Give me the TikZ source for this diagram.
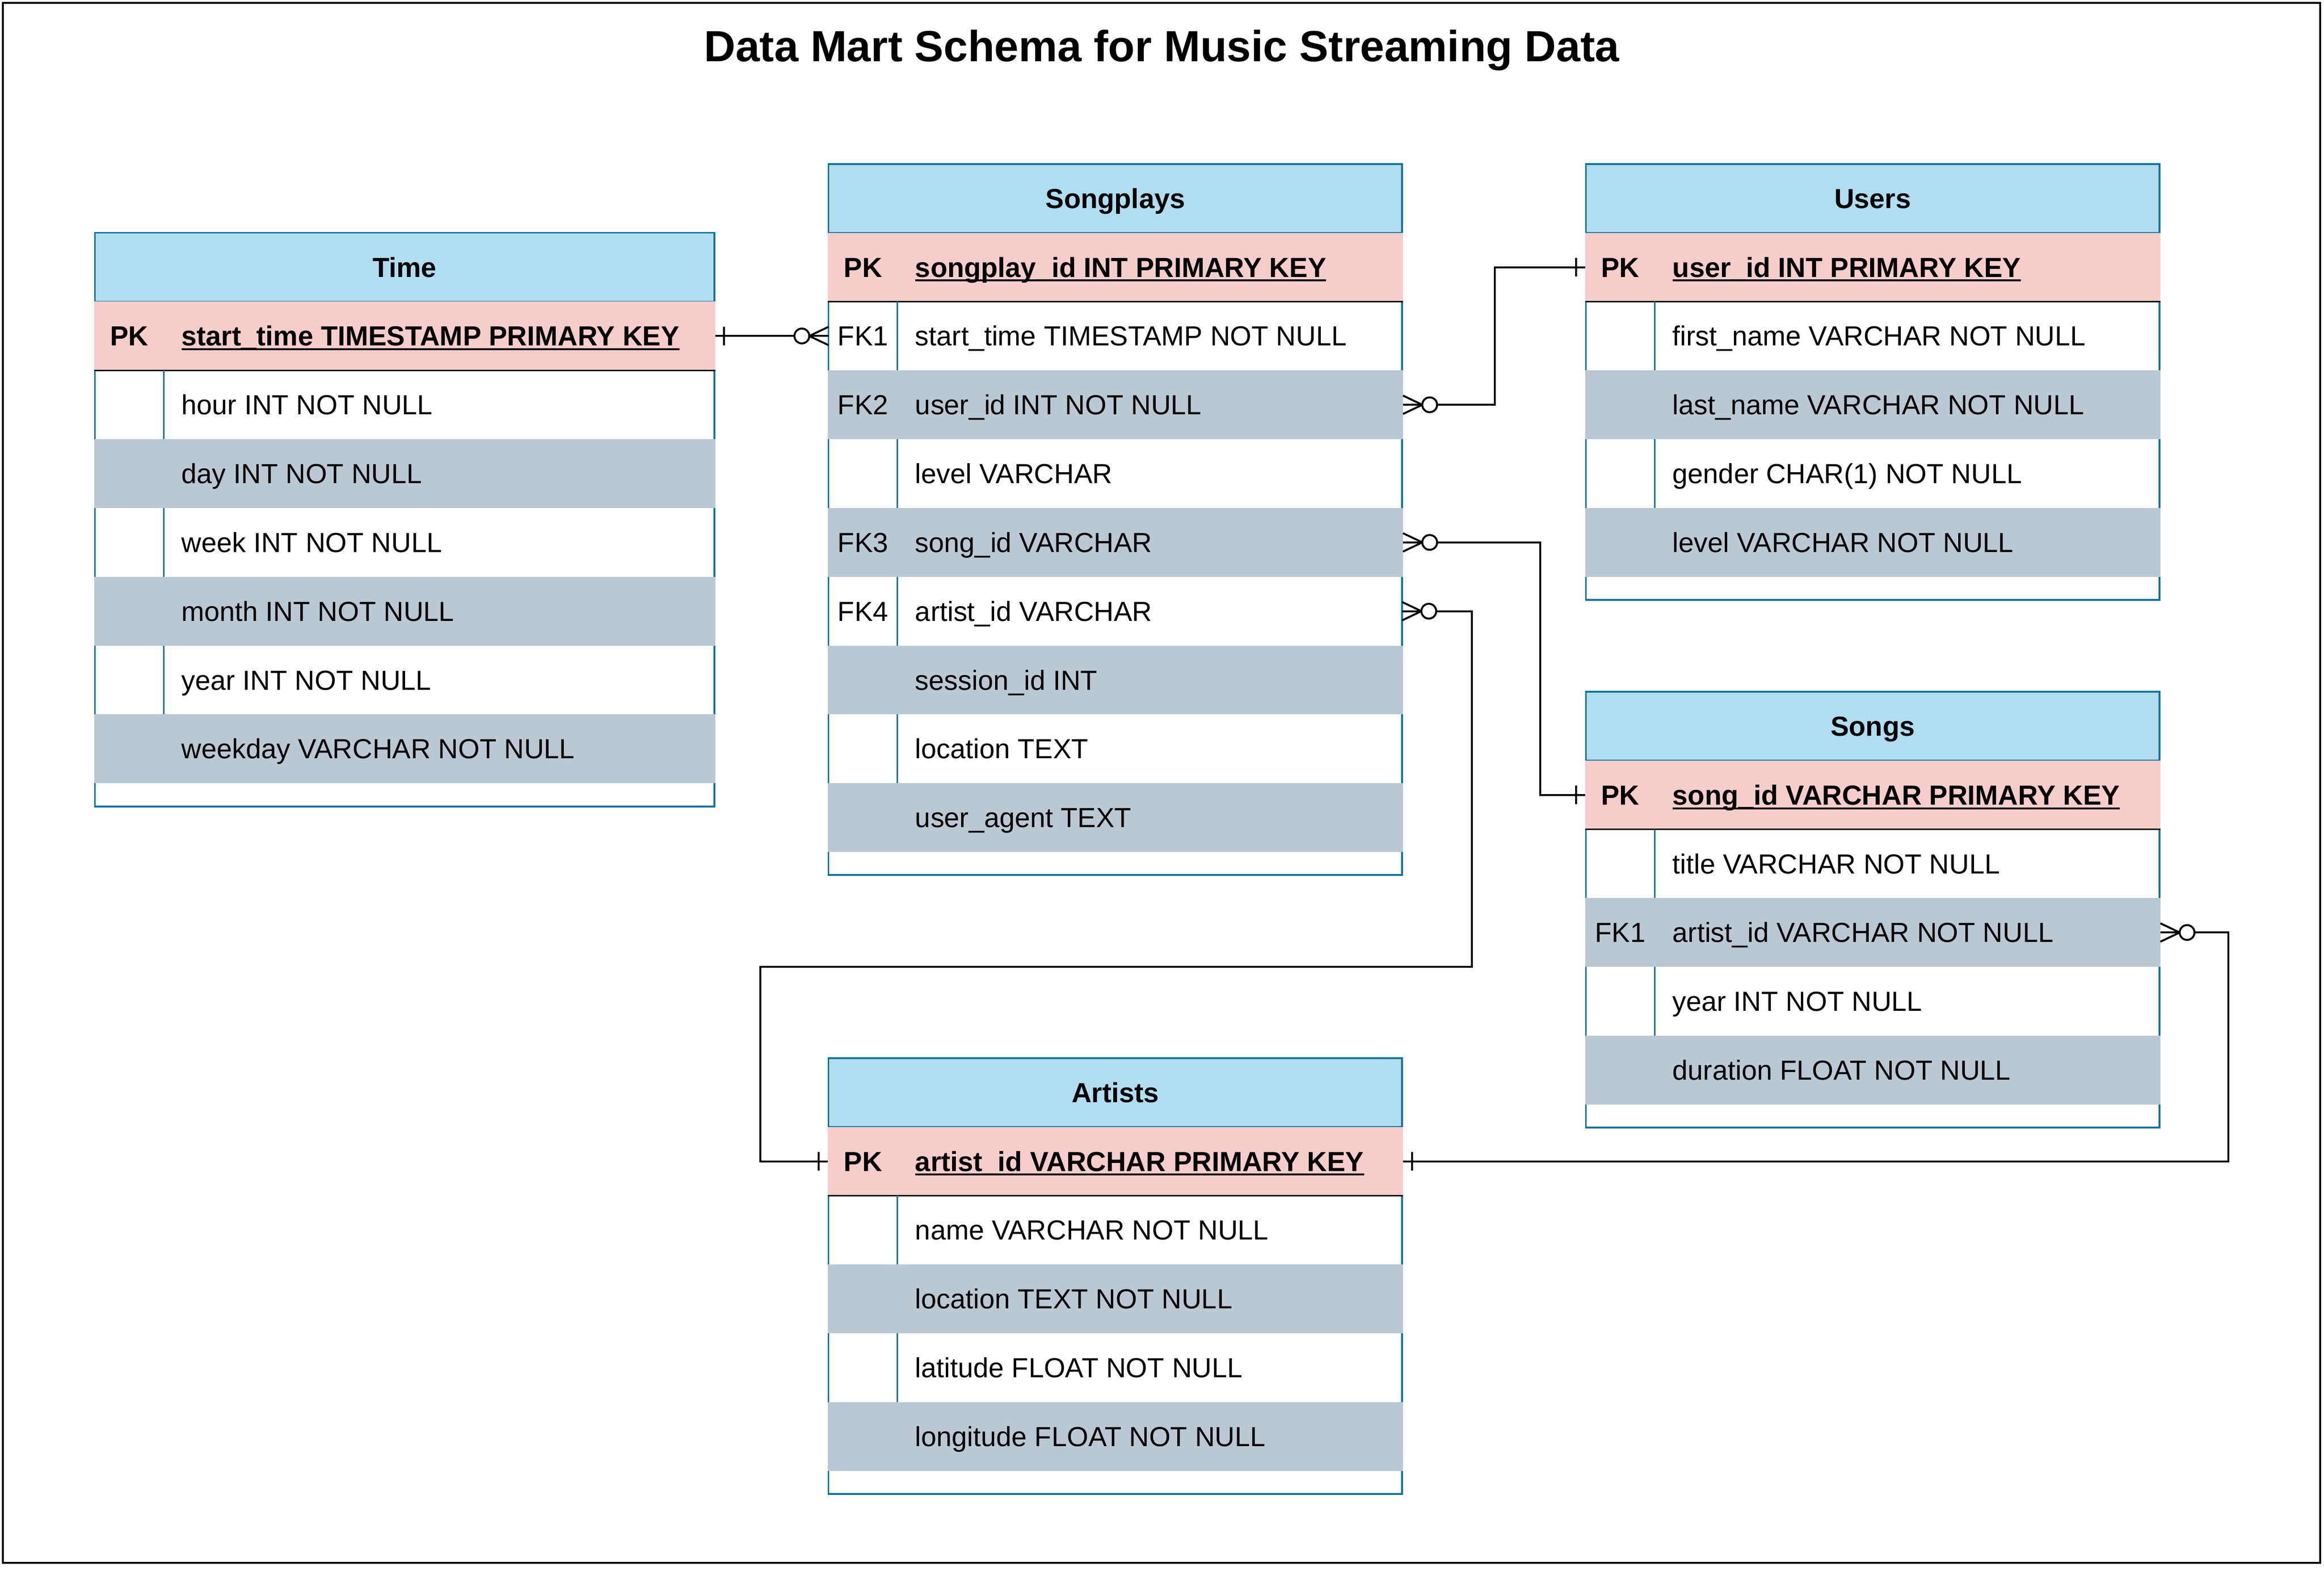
\documentclass[tikz,border=0pt]{standalone}
\usepackage{fontspec}
\setmainfont{Liberation Sans}
\usetikzlibrary{calc}
\definecolor{tblue}{HTML}{10739E}
\definecolor{hblue}{HTML}{B1DDF0}
\definecolor{pkpink}{HTML}{F6CDCB}
\definecolor{rgray}{HTML}{BAC8D3}
\newcommand\rowfont{\fontsize{18.6}{22}\selectfont}
\newcommand\titlefont{\fontsize{29.4}{35}\selectfont\bfseries}
\newsavebox\ulbox
\newcommand\ulx[1]{\sbox\ulbox{#1}\rlap{\rule[-3pt]{\wd\ulbox}{1.3pt}}\usebox\ulbox}
\tikzset{
  frame/.style={draw=tblue, line width=1.2pt, fill=white, inner sep=0, outer sep=0},
  hdrbox/.style={draw=tblue, line width=1.2pt, fill=hblue, minimum height=46.4pt, inner sep=0, outer sep=0,
                 font=\rowfont\bfseries, text height=13.3pt, text depth=0pt},
  pkbox/.style={fill=pkpink, minimum height=46.4pt, inner sep=0, outer sep=0},
  wbox/.style={minimum height=46.4pt, inner sep=0, outer sep=0},
  gbox/.style={fill=rgray, minimum height=46.4pt, inner sep=0, outer sep=0},
  sepline/.style={draw=tblue, line width=1pt},
  pkline/.style={draw=black, line width=0.9pt},
  keytxt/.style={anchor=center, inner sep=0, font=\rowfont, text height=13.3pt, text depth=0pt},
  fldtxt/.style={anchor=west, inner sep=0, font=\rowfont, text height=13.3pt, text depth=0pt},
  conn/.style={draw=black, line width=1.3pt},
  outer/.style={draw=black, line width=1.3pt}
}
% table frame: name, left, top, width, height
\newcommand\tframe[5]{\node[frame, minimum width=#4, minimum height=#5] (#1) at ({#2+#4/2},{#3+#5/2}) {};}
% header: name, left, center y, width, title
\newcommand\thead[5]{\node[hdrbox, minimum width=#4] (#1) at ({#2+#4/2},#3) {#5};}
% primary key row: name, left, center y, width, field
\newcommand\tpk[5]{%
  \node[pkbox, minimum width=#4+1.2] (#1) at ({#2+#4/2},#3) {};
  \draw[pkline] (#1.south west) -- (#1.south east);
  \node[keytxt, font=\rowfont\bfseries] at ({#2+23.25},#3) {PK};
  \node[fldtxt, font=\rowfont\bfseries] at ({#2+58.3},#3) {\ulx{#5}};}
% white row: name, left, center y, width, key, field
\newcommand\trowW[6]{%
  \node[wbox, minimum width=#4] (#1) at ({#2+#4/2},#3) {};
  \draw[sepline] ({#2+46.5},{#3-23.2}) -- ({#2+46.5},{#3+23.2});
  \node[keytxt] at ({#2+23.25},#3) {#5};
  \node[fldtxt] at ({#2+58.3},#3) {#6};}
% grey row: name, left, center y, width, key, field
\newcommand\trowG[6]{%
  \node[gbox, minimum width=#4+1.2] (#1) at ({#2+#4/2},#3) {};
  \node[keytxt] at ({#2+23.25},#3) {#5};
  \node[fldtxt] at ({#2+58.3},#3) {#6};}
% zero-or-many end: anchor, direction (+1 line leaves to the right, -1 to the left)
\newcommand\zmany[2]{%
  \draw[conn] (#1) ++(0,-6.2) -- ++({#2*13},6.2) -- ++({-#2*13},6.2);
  \draw[conn, fill=white] (#1) ++({#2*18},0) circle[radius=5];}
% exactly-one end
\newcommand\onebar[2]{\draw[conn] (#1) ++({#2*6},-6.2) -- ++(0,12.4);}

\begin{document}
\begin{tikzpicture}[x=1pt, y=-1pt]
\useasboundingbox (0,0) rectangle (1568,1059.5);
\fill[white] (0,0) rectangle (1568,1059.5);
\draw[outer] (2,2) rectangle (1565.5,1054);

\node[font=\titlefont, text height=21.05pt, text depth=0pt, inner sep=0] (title) at (783.8,31) {Data Mart Schema for Music Streaming Data};

% ---------- Time ----------
\tframe{ti}{64}{157}{418}{387}
\thead{ti-h}{64}{180.2}{418}{Time}
\tpk{ti-pk}{64}{226.6}{418}{start\_time TIMESTAMP PRIMARY KEY}
\trowW{ti-r1}{64}{273}{418}{}{hour INT NOT NULL}
\trowG{ti-r2}{64}{319.4}{418}{}{day INT NOT NULL}
\trowW{ti-r3}{64}{365.8}{418}{}{week INT NOT NULL}
\trowG{ti-r4}{64}{412.2}{418}{}{month INT NOT NULL}
\trowW{ti-r5}{64}{458.6}{418}{}{year INT NOT NULL}
\trowG{ti-r6}{64}{505}{418}{}{weekday VARCHAR NOT NULL}

% ---------- Songplays ----------
\tframe{sp}{559}{110.6}{387}{479.6}
\thead{sp-h}{559}{133.8}{387}{Songplays}
\tpk{sp-pk}{559}{180.2}{387}{songplay\_id INT PRIMARY KEY}
\trowW{sp-fk1}{559}{226.6}{387}{FK1}{start\_time TIMESTAMP NOT NULL}
\trowG{sp-fk2}{559}{273}{387}{FK2}{user\_id INT NOT NULL}
\trowW{sp-r3}{559}{319.4}{387}{}{level VARCHAR}
\trowG{sp-fk3}{559}{365.8}{387}{FK3}{song\_id VARCHAR}
\trowW{sp-fk4}{559}{412.2}{387}{FK4}{artist\_id VARCHAR}
\trowG{sp-r6}{559}{458.6}{387}{}{session\_id INT}
\trowW{sp-r7}{559}{505}{387}{}{location TEXT}
\trowG{sp-r8}{559}{551.4}{387}{}{user\_agent TEXT}

% ---------- Users ----------
\tframe{us}{1070}{110.6}{387}{294}
\thead{us-h}{1070}{133.8}{387}{Users}
\tpk{us-pk}{1070}{180.2}{387}{user\_id INT PRIMARY KEY}
\trowW{us-r1}{1070}{226.6}{387}{}{first\_name VARCHAR NOT NULL}
\trowG{us-r2}{1070}{273}{387}{}{last\_name VARCHAR NOT NULL}
\trowW{us-r3}{1070}{319.4}{387}{}{gender CHAR(1) NOT NULL}
\trowG{us-r4}{1070}{365.8}{387}{}{level VARCHAR NOT NULL}

% ---------- Songs ----------
\tframe{so}{1070}{466.5}{387}{294}
\thead{so-h}{1070}{489.7}{387}{Songs}
\tpk{so-pk}{1070}{536.1}{387}{song\_id VARCHAR PRIMARY KEY}
\trowW{so-r1}{1070}{582.5}{387}{}{title VARCHAR NOT NULL}
\trowG{so-fk1}{1070}{628.9}{387}{FK1}{artist\_id VARCHAR NOT NULL}
\trowW{so-r3}{1070}{675.3}{387}{}{year INT NOT NULL}
\trowG{so-r4}{1070}{721.7}{387}{}{duration FLOAT NOT NULL}

% ---------- Artists ----------
\tframe{ar}{559}{713.6}{387}{294}
\thead{ar-h}{559}{736.8}{387}{Artists}
\tpk{ar-pk}{559}{783.2}{387}{artist\_id VARCHAR PRIMARY KEY}
\trowW{ar-r1}{559}{829.6}{387}{}{name VARCHAR NOT NULL}
\trowG{ar-r2}{559}{876}{387}{}{location TEXT NOT NULL}
\trowW{ar-r3}{559}{922.4}{387}{}{latitude FLOAT NOT NULL}
\trowG{ar-r4}{559}{968.8}{387}{}{longitude FLOAT NOT NULL}

% ---------- connectors ----------
\coordinate (bendA) at (993,652);
\coordinate (bendB) at (513,652);
\draw[conn] (ti-pk.east) -- (sp-fk1.west);
\draw[conn] (sp-fk2.east) -- ++(62,0) |- (us-pk.west);
\draw[conn] (sp-fk3.east) -- ++(92.5,0) |- (so-pk.west);
\draw[conn] (sp-fk4.east) -| (bendA) -- (bendB) |- (ar-pk.west);
\draw[conn] (so-fk1.east) -- ++(45.8,0) |- (ar-pk.east);

% ---------- end markers ----------
\onebar{ti-pk.east}{1}
\zmany{sp-fk1.west}{-1}
\zmany{sp-fk2.east}{1}
\onebar{us-pk.west}{-1}
\zmany{sp-fk3.east}{1}
\onebar{so-pk.west}{-1}
\zmany{sp-fk4.east}{1}
\onebar{ar-pk.west}{-1}
\zmany{so-fk1.east}{1}
\onebar{ar-pk.east}{1}
\end{tikzpicture}
\end{document}
